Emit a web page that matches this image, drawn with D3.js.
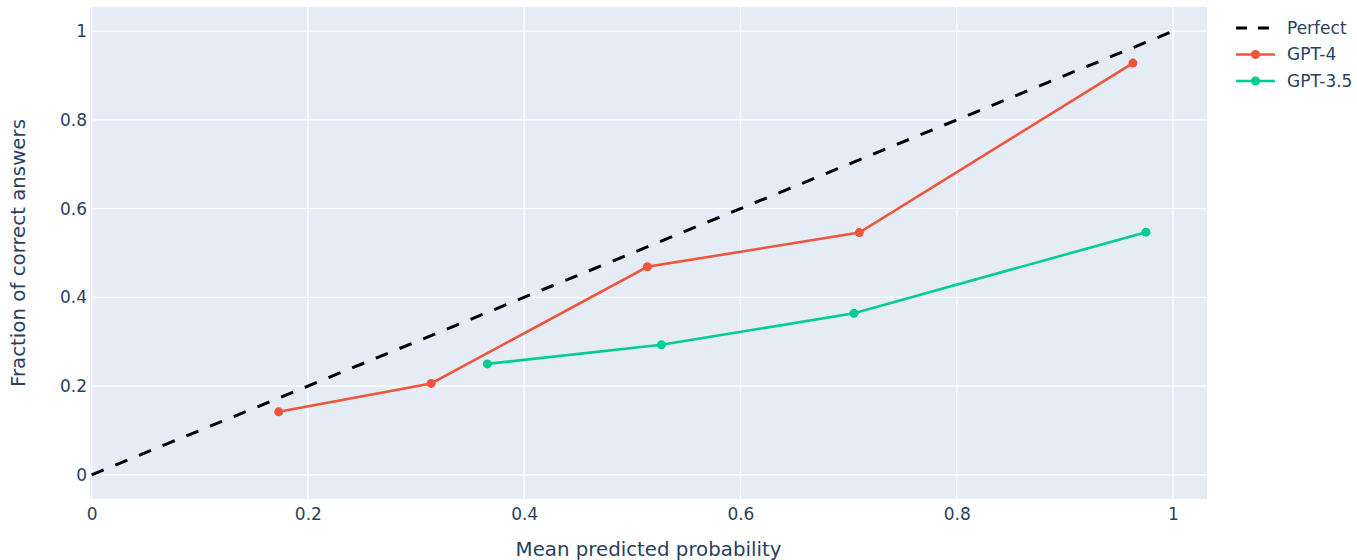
<!DOCTYPE html>
<html>
<head>
<meta charset="utf-8">
<script src="https://cdn.jsdelivr.net/npm/d3@7"></script>
<style>
  body { margin: 0; background: #fff; }
  svg text { font-family: "DejaVu Sans", Verdana, sans-serif; fill: #2a3f5f; }
</style>
</head>
<body>
<div id="chart"></div>
<script>
const width = 1357;
const height = 560;
const margin = { top: 7, right: 150, bottom: 61, left: 90 };

// calibration data
const perfectX = [0, 1];
const perfectY = [0, 1];
const gpt4X = [0.173, 0.314, 0.514, 0.710, 0.963];
const gpt4Y = [0.142, 0.206, 0.469, 0.546, 0.928];
const gpt35X = [0.366, 0.527, 0.705, 0.975];
const gpt35Y = [0.250, 0.293, 0.364, 0.547];
const xTicks = [0, 0.2, 0.4, 0.6, 0.8, 1];
const yTicks = [0, 0.2, 0.4, 0.6, 0.8, 1];

const series = [
  { name: "Perfect", xs: perfectX, ys: perfectY, color: "#000", dash: "13,12.6", markers: false },
  { name: "GPT-4", xs: gpt4X, ys: gpt4Y, color: "#EF553B", dash: null, markers: true },
  { name: "GPT-3.5", xs: gpt35X, ys: gpt35Y, color: "#00cc96", dash: null, markers: true },
];

const x = d3
  .scaleLinear()
  .domain([-0.0015, 1.0315])
  .range([margin.left, width - margin.right]);

const y = d3
  .scaleLinear()
  .domain([-0.0545, 1.0545])
  .range([height - margin.bottom, margin.top]);

const svg = d3
  .select("#chart")
  .append("svg")
  .attr("width", width)
  .attr("height", height);

// plot background
svg
  .append("rect")
  .attr("x", margin.left)
  .attr("y", margin.top)
  .attr("width", width - margin.right - margin.left)
  .attr("height", height - margin.bottom - margin.top)
  .attr("fill", "#E5ECF6");

// grid lines
svg
  .append("g")
  .selectAll("line")
  .data(xTicks)
  .join("line")
  .attr("x1", (d) => x(d))
  .attr("x2", (d) => x(d))
  .attr("y1", margin.top)
  .attr("y2", height - margin.bottom)
  .attr("stroke", "#fff")
  .attr("stroke-width", 1.3);

svg
  .append("g")
  .selectAll("line")
  .data(yTicks)
  .join("line")
  .attr("x1", margin.left)
  .attr("x2", width - margin.right)
  .attr("y1", (d) => y(d))
  .attr("y2", (d) => y(d))
  .attr("stroke", "#fff")
  .attr("stroke-width", 1.3);

// Add x axis
const xAxis = (g) =>
  g
    .attr("transform", `translate(0,${height - margin.bottom})`)
    .call(d3.axisBottom(x).tickValues(xTicks).tickFormat(d3.format("~g")).tickSize(0).tickPadding(9))
    .call((g) => g.select(".domain").remove())
    .call((g) => g.selectAll("text").attr("font-size", "17px").attr("fill", "#2a3f5f"));
svg.append("g").call(xAxis);

// Add y axis
const yAxis = (g) =>
  g
    .attr("transform", `translate(${margin.left},0)`)
    .call(d3.axisLeft(y).tickValues(yTicks).tickFormat(d3.format("~g")).tickSize(0).tickPadding(3))
    .call((g) => g.select(".domain").remove())
    .call((g) => g.selectAll("text").attr("font-size", "17px").attr("fill", "#2a3f5f"));
svg.append("g").call(yAxis);

// axis titles
svg
  .append("text")
  .attr("x", (margin.left + width - margin.right) / 2)
  .attr("y", 556)
  .attr("text-anchor", "middle")
  .attr("font-size", "19.8px")
  .text("Mean predicted probability");

svg
  .append("text")
  .attr("transform", `translate(25,${(margin.top + height - margin.bottom) / 2}) rotate(-90)`)
  .attr("text-anchor", "middle")
  .attr("font-size", "19.8px")
  .text("Fraction of correct answers");

// lines and markers
const line = d3
  .line()
  .x((d) => x(d[0]))
  .y((d) => y(d[1]));

const plot = svg.append("g");
series.forEach((s) => {
  const pts = s.xs.map((v, i) => [v, s.ys[i]]);
  plot
    .append("path")
    .datum(pts)
    .attr("d", line)
    .attr("fill", "none")
    .attr("stroke", s.color)
    .attr("stroke-width", s.markers ? 2.6 : 3)
    .attr("stroke-dasharray", s.dash);
  if (s.markers) {
    plot
      .append("g")
      .selectAll("circle")
      .data(pts)
      .join("circle")
      .attr("cx", (d) => x(d[0]))
      .attr("cy", (d) => y(d[1]))
      .attr("r", 4.5)
      .attr("fill", s.color);
  }
});

// Create legend
const legend = svg
  .selectAll(".legend")
  .data(series)
  .enter()
  .append("g")
  .attr("class", "legend")
  .attr("transform", (d, i) => `translate(1236,${28 + i * 26.5})`);

legend
  .append("line")
  .attr("x1", 0)
  .attr("x2", 39)
  .attr("stroke", (d) => d.color)
  .attr("stroke-width", (d) => (d.markers ? 2.6 : 3))
  .attr("stroke-dasharray", (d) => (d.dash ? "11,11" : null));

legend
  .filter((d) => d.markers)
  .append("circle")
  .attr("cx", 19.5)
  .attr("r", 4.5)
  .attr("fill", (d) => d.color);

legend
  .append("text")
  .attr("x", 51)
  .attr("dy", "0.35em")
  .attr("font-size", "17px")
  .text((d) => d.name);
</script>
</body>
</html>
